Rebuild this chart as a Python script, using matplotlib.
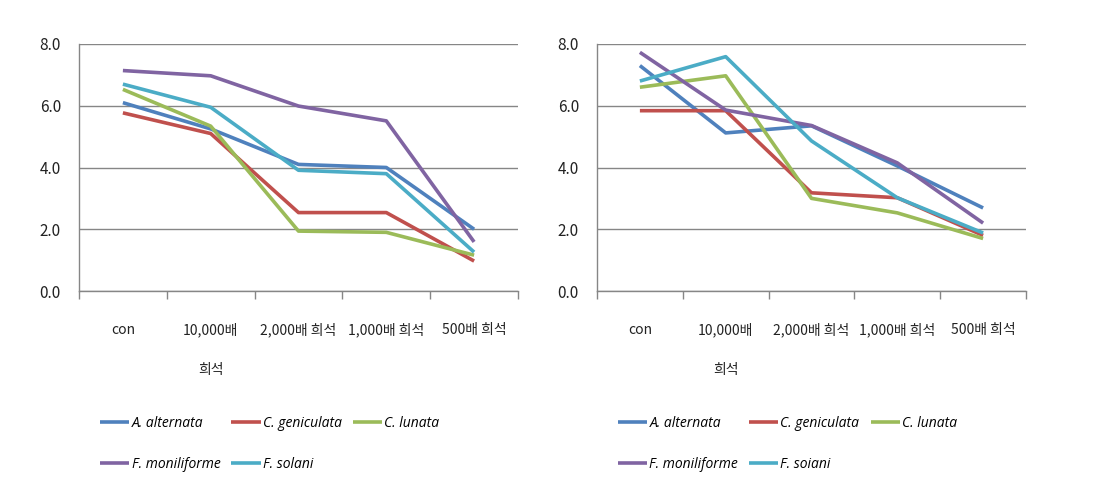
import matplotlib
matplotlib.use("Agg")
import matplotlib.pyplot as plt
import numpy as np

categories = ["con", "10,000배\n희석", "2,000배 희석", "1,000배 희석", "500배 희석"]
series_names_left = ["A. alternata", "C. geniculata", "C. lunata", "F. moniliforme", "F. solani"]
series_names_right = ["A. alternata", "C. geniculata", "C. lunata", "F. moniliforme", "F. soiani"]
colors = ["#4F81BD", "#C0504D", "#9BBB59", "#8064A2", "#4BACC6"]

left_alternata = [6.1, 5.25, 4.1, 4.0, 2.0]
left_geniculata = [5.77, 5.1, 2.54, 2.54, 0.97]
left_lunata = [6.53, 5.34, 1.94, 1.9, 1.16]
left_moniliforme = [7.14, 6.97, 5.99, 5.51, 1.59]
left_solani = [6.7, 5.95, 3.91, 3.8, 1.26]

right_alternata = [7.3, 5.12, 5.35, 4.05, 2.69]
right_geniculata = [5.84, 5.84, 3.18, 3.02, 1.8]
right_lunata = [6.6, 6.97, 3.0, 2.53, 1.7]
right_moniliforme = [7.73, 5.86, 5.36, 4.15, 2.2]
right_solani = [6.8, 7.59, 4.86, 3.02, 1.88]

yticks = [0.0, 2.0, 4.0, 6.0, 8.0]

plt.rcParams['font.family'] = ['Noto Sans CJK KR', 'DejaVu Sans']

fig = plt.figure(figsize=(10.93, 4.95), dpi=100)
ax1 = fig.add_axes([79/1093, 1-291/495, 439/1093, 247/495])
ax2 = fig.add_axes([597/1093, 1-291/495, 429/1093, 247/495])

panels = [
    (ax1, [left_alternata, left_geniculata, left_lunata, left_moniliforme, left_solani], series_names_left),
    (ax2, [right_alternata, right_geniculata, right_lunata, right_moniliforme, right_solani], series_names_right),
]

x = np.arange(len(categories))
for ax, data, names in panels:
    lines = []
    for vals, name, c in zip(data, names, colors):
        ln, = ax.plot(x, vals, color=c, lw=2.6, label=name, solid_capstyle='butt', solid_joinstyle='round')
        lines.append(ln)
    ax.set_xlim(-0.5, len(categories) - 0.5)
    ax.set_ylim(0, 8)
    ax.set_yticks(yticks)
    ax.set_yticklabels([f"{v:.1f}" for v in yticks], fontsize=11, color='#222222')
    ax.yaxis.grid(True, color='#868686', lw=1)
    ax.set_axisbelow(True)
    ax.tick_params(axis='y', length=0, pad=13)
    ax.set_xticks(x)
    ax.set_xticklabels(categories, fontsize=10, color='#222222', linespacing=3.3, va='top')
    ax.tick_params(axis='x', which='major', length=0, pad=23)
    ax.set_xticks(np.arange(-0.5, len(categories)), minor=True)
    ax.tick_params(axis='x', which='minor', length=6, width=1, color='#868686', direction='out')
    for s in ['top', 'right']:
        ax.spines[s].set_visible(False)
    ax.spines['left'].set_color('#868686')
    ax.spines['bottom'].set_color('#868686')
    ax.spines['left'].set_linewidth(1)
    ax.spines['bottom'].set_linewidth(1)

    order = [0, 3, 1, 4, 2]
    ax.legend([lines[i] for i in order], [names[i] for i in order],
              loc='upper left', ncol=3, frameon=False,
              bbox_to_anchor=(0.02, -0.455), handlelength=2.1, handletextpad=0.15,
              columnspacing=0.8, labelspacing=1.9,
              prop={'family': 'Open Sans', 'style': 'italic', 'size': 10})

fig.savefig("out.png", dpi=100, facecolor='white')
